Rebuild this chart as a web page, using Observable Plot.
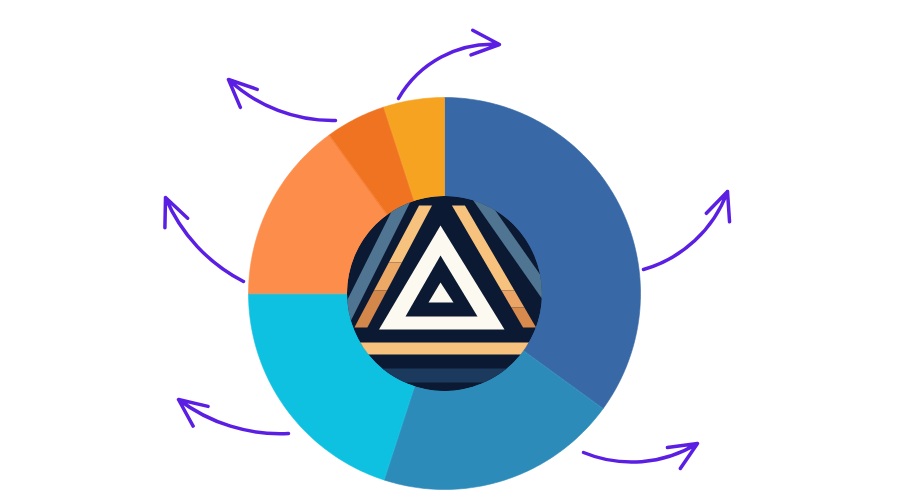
<!DOCTYPE html>
<html><head><meta charset="utf-8">
<script src="https://cdn.jsdelivr.net/npm/d3@7"></script>
<script src="https://cdn.jsdelivr.net/npm/@observablehq/plot@0.6"></script>
<style>html,body{margin:0;padding:0;background:#fff;} #chart{width:900px;height:500px;}</style>
</head><body><div id="chart"></div>
<script>
// ---- data ----
const categories = ["Segment A", "Segment B", "Segment C", "Segment D", "Segment E", "Segment F"];
const values = [35, 20, 20, 15, 5, 5];
const sliceColors = ["#3868a6", "#2d8bba", "#0fc1e0", "#fd8d4a", "#f07322", "#f6a322"];

// ---- layout ----
const W = 900, H = 500;
const CX = 444, CY = 293, R_OUT = 196, R_IN = 97.5;
const ARROW_COLOR = "#5b1fe3";
// decorative arrows: offsets from the donut centre, bend in degrees
const arrowLayout = [
  {x1: -46, y1: -195, x2: 55, y2: -249, bend: 32},
  {x1: -109, y1: -173, x2: -216, y2: -214, bend: 22},
  {x1: -201, y1: -12, x2: -279, y2: -96, bend: 20},
  {x1: -156, y1: 140, x2: -266, y2: 106, bend: 20},
  {x1: 139, y1: 159, x2: 253, y2: 150, bend: -27},
  {x1: 199, y1: -24, x2: 283, y2: -102, bend: -27}
];

// ---- donut slices ----
const rows = categories.map((c, i) => ({category: c, value: values[i], color: sliceColors[i]}));
const arcs = d3.pie().sort(null).value(d => d.value)(rows);
const sliceShapes = arcs.map(a => {
  const n = Math.max(8, Math.ceil((a.endAngle - a.startAngle) / (Math.PI / 180)));
  const pts = [];
  for (let k = 0; k <= n; k++) {
    const t = a.startAngle + (a.endAngle - a.startAngle) * k / n;
    pts.push({x: R_OUT * Math.sin(t), y: -R_OUT * Math.cos(t)});
  }
  for (let k = n; k >= 0; k--) {
    const t = a.startAngle + (a.endAngle - a.startAngle) * k / n;
    pts.push({x: (R_IN - 4) * Math.sin(t), y: -(R_IN - 4) * Math.cos(t)});
  }
  return {fill: a.data.color, pts};
});

// ---- centre logo (decoration) ----
const NAVY = "#0b1932", WHITE = "#fcf9f0", TAN = "#f6c27d", BLUEGRAY = "#4f7592", NAVYBLUE = "#1c3a5e";
function band(x0, yRef, w, slope, yTop, yBot) {
  return [[x0 + slope * (yTop - yRef), yTop], [x0 + w + slope * (yTop - yRef), yTop],
          [x0 + w + slope * (yBot - yRef), yBot], [x0 + slope * (yBot - yRef), yBot]];
}
const circlePoly = d3.range(0, 361, 2).map(d => [R_IN * Math.sin(d * Math.PI / 180), -R_IN * Math.cos(d * Math.PI / 180)]);
const logoShapes = [
  {fill: NAVY, pts: circlePoly},
  {fill: BLUEGRAY, pts: band(-69, -50, 14, -0.5, -140, 40)},
  {fill: BLUEGRAY, pts: band(33, -87, 15, 0.7, -150, 40)},
  {fill: TAN, pts: band(-26, -87, 13, -0.53, -88, -31)},
  {fill: "#eca865", pts: band(-26, -87, 13, -0.53, -31, -3)},
  {fill: "#d3874b", pts: band(-26, -87, 13, -0.53, -3, 34)},
  {fill: TAN, pts: band(8, -87, 13, 0.583, -88, -3)},
  {fill: "#eba466", pts: band(8, -87, 13, 0.583, -3, 14)},
  {fill: "#d68a4d", pts: band(8, -87, 13, 0.583, 14, 34)},
  {fill: TAN, pts: [[-110, 49], [110, 49], [110, 61], [-110, 61]]},
  {fill: NAVYBLUE, pts: [[-110, 75], [110, 75], [110, 89], [-110, 89]]},
  {fill: WHITE, pts: [[-4, -68], [-65.5, 36], [60, 36]]},
  {fill: NAVY, pts: [[-4, -38], [-39, 23], [33, 23]]},
  {fill: WHITE, pts: [[-4, -11], [-16, 9], [9, 9]]}
].map(s => ({fill: s.fill, pts: s.pts.map(([x, y]) => ({x, y}))}));

const chart = Plot.plot({
  width: W, height: H, margin: 0,
  style: {background: "#ffffff"},
  x: {domain: [-CX, W - CX], range: [0, W], axis: null},
  y: {domain: [-CY, H - CY], range: [0, H], axis: null},
  marks: [
    ...sliceShapes.map(s => Plot.line(s.pts, {x: "x", y: "y", fill: s.fill, stroke: s.fill, strokeWidth: 0.6, curve: "linear-closed"})),
    ...logoShapes.map(s => Plot.line(s.pts, {x: "x", y: "y", fill: s.fill, stroke: "none", curve: "linear-closed"})),
    ...arrowLayout.map(a => Plot.arrow([a], {
      x1: "x1", y1: "y1", x2: "x2", y2: "y2", bend: a.bend,
      stroke: ARROW_COLOR, strokeWidth: 3.5, headLength: 13, headAngle: 48, strokeLinecap: "round"
    }))
  ]
});

const sx = chart.scale("x"), sy = chart.scale("y");
const svg = d3.select(chart);
svg.insert("defs", ":first-child").append("clipPath").attr("id", "logo-clip")
  .append("circle").attr("cx", sx.apply(0)).attr("cy", sy.apply(0)).attr("r", sx.apply(R_IN) - sx.apply(0));
svg.selectAll('g[aria-label="line"]').filter((d, i) => i >= sliceShapes.length).attr("clip-path", "url(#logo-clip)");

document.getElementById("chart").appendChild(chart);
</script>
</body></html>
